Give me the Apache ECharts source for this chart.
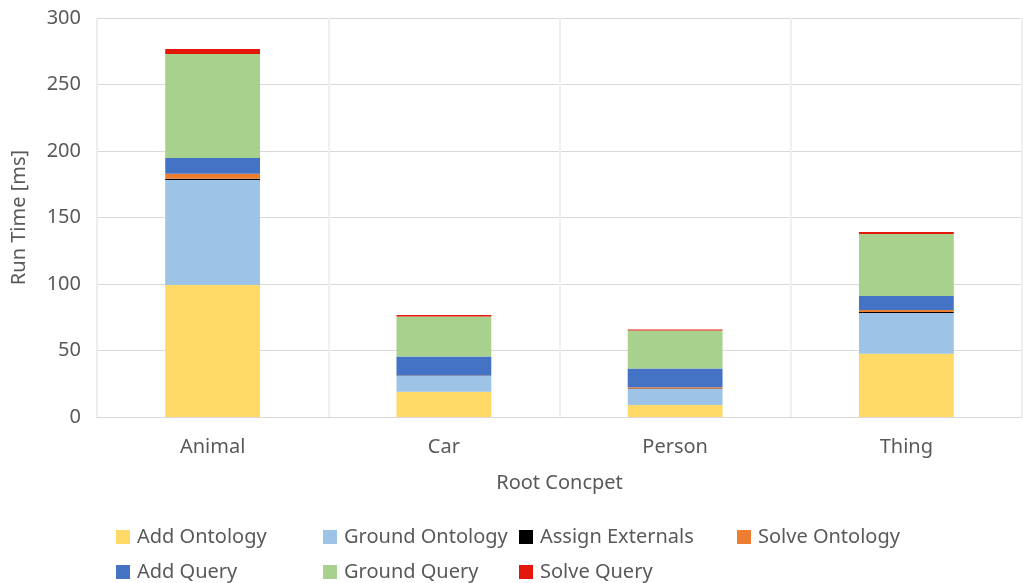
<!DOCTYPE html>
<html>
<head>
<meta charset="utf-8">
<script src="https://cdn.jsdelivr.net/npm/echarts@6/dist/echarts.min.js"></script>
<style>
  html, body { margin: 0; padding: 0; background: #fff; }
  #chart { width: 1023px; height: 583px; }
</style>
</head>
<body>
<div id="chart"></div>
<script>
// Root concepts on the x axis
const categories = ['Animal', 'Car', 'Person', 'Thing'];

// Run time per phase, in milliseconds
const addOntology     = [99.2, 19.0, 9.0, 47.6];
const groundOntology  = [79.0, 11.8, 12.1, 30.6];
const assignExternals = [1.0, 0.2, 0.3, 0.8];
const solveOntology   = [3.7, 0.2, 0.9, 1.5];
const addQuery        = [11.8, 14.3, 14.1, 10.5];
const groundQuery     = [78.2, 30.1, 28.6, 46.6];
const solveQuery      = [3.8, 1.0, 0.7, 1.5];

const yTicks = [0, 50, 100, 150, 200, 250, 300];

const FONT = 'Noto Sans';
const TEXT = '#595959';

const seriesDefs = [
  { name: 'Add Ontology', data: addOntology, color: '#FFD966' },
  { name: 'Ground Ontology', data: groundOntology, color: '#9DC3E6' },
  { name: 'Assign Externals', data: assignExternals, color: '#000000' },
  { name: 'Solve Ontology', data: solveOntology, color: '#ED7D31' },
  { name: 'Add Query', data: addQuery, color: '#4472C4' },
  { name: 'Ground Query', data: groundQuery, color: '#A9D18E' },
  { name: 'Solve Query', data: solveQuery, color: '#E3170A' }
];

// Legend slots laid out in two rows of aligned columns
const legendPos = [
  [116, 527], [323, 527], [519, 527], [737, 527],
  [116, 562], [323, 562], [519, 562]
];

const legends = seriesDefs.map((s, i) => ({
  data: [s.name],
  left: legendPos[i][0],
  top: legendPos[i][1],
  icon: 'rect',
  itemWidth: 14,
  itemHeight: 14,
  itemGap: 0,
  padding: 0,
  selectedMode: false,
  textStyle: { fontFamily: FONT, fontSize: 20, color: TEXT, padding: [0, 0, 0, 2] }
}));

const chart = echarts.init(document.getElementById('chart'), null, { renderer: 'canvas' });

chart.setOption({
  animation: false,
  legend: legends,
  grid: { left: 97, right: 1, top: 18, bottom: 166, containLabel: false },
  xAxis: {
    type: 'category',
    data: categories,
    name: 'Root Concpet',
    nameLocation: 'middle',
    nameGap: 56,
    nameTextStyle: { fontFamily: FONT, fontSize: 20, color: TEXT },
    axisLine: { show: true, lineStyle: { color: '#d9d9d9', width: 1 } },
    axisTick: { show: false },
    axisLabel: { fontFamily: FONT, fontSize: 20, color: TEXT, margin: 20 },
    splitLine: { show: true, lineStyle: { color: '#efefef', width: 2 } }
  },
  yAxis: {
    type: 'value',
    min: yTicks[0],
    max: yTicks[yTicks.length - 1],
    interval: yTicks[1] - yTicks[0],
    name: 'Run Time [ms]',
    nameLocation: 'middle',
    nameGap: 68,
    nameRotate: 90,
    nameTextStyle: { fontFamily: FONT, fontSize: 20, color: TEXT },
    axisLine: { show: true, lineStyle: { color: '#ececec', width: 2 } },
    axisTick: { show: false },
    axisLabel: { fontFamily: FONT, fontSize: 20, color: TEXT, margin: 16 },
    splitLine: { show: true, lineStyle: { color: '#d9d9d9', width: 1 } }
  },
  series: seriesDefs.map(s => ({
    name: s.name,
    type: 'bar',
    stack: 'total',
    barWidth: '41%',
    data: s.data,
    itemStyle: { color: s.color }
  }))
});
</script>
</body>
</html>
